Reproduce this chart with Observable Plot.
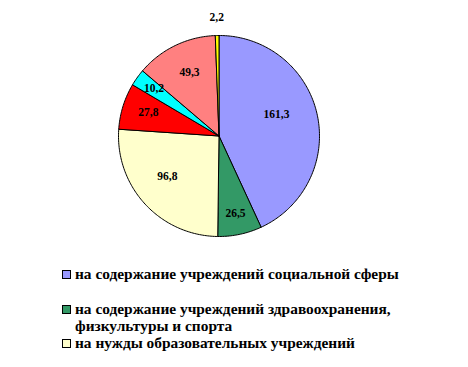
<!DOCTYPE html>
<html><head><meta charset="utf-8">
<script src="https://cdn.jsdelivr.net/npm/d3@7"></script>
<script src="https://cdn.jsdelivr.net/npm/@observablehq/plot@0.6"></script>
<style>
body{margin:0;background:#fff;}
#wrap{position:relative;width:468px;height:367px;overflow:hidden;}
#legend{position:absolute;left:0;top:0;font-family:'Liberation Serif';font-weight:bold;font-size:15.4px;color:#000;}
.item{position:absolute;left:75px;white-space:nowrap;line-height:17px;}
.sw{position:absolute;left:-13px;top:5px;width:7px;height:7px;border:1px solid #000;}
</style></head>
<body><div id="wrap"><div id="chart"></div><div id="legend"></div></div>
<script>
const categories = ["social","health","education","red","cyan","salmon","yellow"];
const values = [161.3, 26.5, 96.8, 27.8, 10.2, 49.3, 2.2];
const labels = ["161,3","26,5","96,8","27,8","10,2","49,3","2,2"];
const colors = ["#9999FF","#339966","#FFFFCC","#FF0000","#00FFFF","#FF8080","#FFFF00"];
const legendTexts = ["на содержание учреждений социальной сферы","на содержание учреждений здравоохранения,\nфизкультуры и спорта","на нужды образовательных учреждений"];

const W = 468, H = 367, cx = 218.5, cy = 135.5, R = 100.5;
const labelR = [0.61,0.79,0.65,0.74,0.8,0.7,1.18];
const labelShift = [-8,0,5,1,0.5,1,0];
const data = categories.map((c,i)=>({cat:c, value:values[i], label:labels[i], color:colors[i]}));
const arcs = d3.pie().sort(null).value(d=>d.value)(data);
const pts = [];
arcs.forEach(a=>{
  pts.push({cat:a.data.cat, color:a.data.color, x:0, y:0});
  const n = Math.max(2, Math.ceil((a.endAngle-a.startAngle)*60));
  for(let k=0;k<=n;k++){
    const t = a.startAngle + (a.endAngle-a.startAngle)*k/n;
    pts.push({cat:a.data.cat, color:a.data.color, x:Math.sin(t), y:Math.cos(t)});
  }
  pts.push({cat:a.data.cat, color:a.data.color, x:0, y:0});
});
const labs = arcs.map((a,i)=>{
  const m=(a.startAngle+a.endAngle)/2 + labelShift[i]*Math.PI/180;
  return {label:a.data.label, x:Math.sin(m)*labelR[i], y:Math.cos(m)*labelR[i]};
});
const chart = Plot.plot({
  width:W, height:H, margin:0,
  x:{domain:[-cx/R,(W-cx)/R], range:[0,W], axis:null},
  y:{domain:[-(H-cy)/R, cy/R], range:[H,0], axis:null},
  marks:[
    Plot.line(pts,{x:"x",y:"y",z:"cat",fill:"color",stroke:"#000",strokeWidth:1,curve:"linear"}),
    Plot.text(labs,{x:"x",y:"y",text:"label",fontSize:11.5,fontWeight:"bold",fontFamily:"Liberation Serif",fill:"#000"})
  ],
  style:{background:"#fff"}
});
document.getElementById("chart").append(chart);
const tops=[264.5,299.5,333.5];
const leg=document.getElementById("legend");
legendTexts.forEach((t,i)=>{
  const d=document.createElement("div");d.className="item";d.style.top=tops[i]+"px";
  const s=document.createElement("span");s.className="sw";s.style.background=colors[i];
  d.appendChild(s);
  t.split("\n").forEach((ln,j)=>{const sp=document.createElement("div");sp.textContent=ln;d.appendChild(sp);});
  leg.appendChild(d);
});
</script></body></html>
